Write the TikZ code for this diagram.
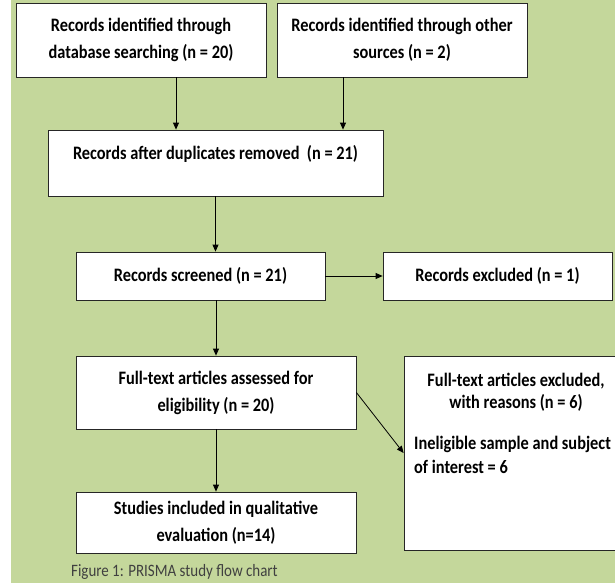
\documentclass[tikz,border=0pt]{standalone}
\usepackage{fontspec}
\setmainfont{Carlito}
\newfontfamily\narrowfam[FakeStretch=0.86]{Carlito}
\usetikzlibrary{arrows.meta}
\definecolor{bggreen}{RGB}{196,215,155}
\newcommand{\boxfont}{\narrowfam\fontsize{19pt}{27pt}\selectfont\bfseries}
\newcommand{\capfont}{\narrowfam\fontsize{17.4pt}{20pt}\selectfont}

\begin{document}
\begin{tikzpicture}[x=1pt,y=-1pt,
  box/.style={draw=black!85,fill=white,line width=0.8pt,inner sep=0pt,align=center,font=\boxfont},
  flow/.style={-{Triangle[length=7pt,width=6pt]},line width=0.8pt}]
\useasboundingbox (0,0) rectangle (615,583);
\fill[bggreen] (11,0) rectangle (615,583);
%
\node[box,minimum width=250pt,minimum height=74pt] (rec1) at (141,40) {Records identified through\\database searching (n = 20)};
\node[box,minimum width=250pt,minimum height=74pt] (rec2) at (402,40) {Records identified through other\\sources (n = 2)};
\node[box,minimum width=335pt,minimum height=66pt,inner ysep=4pt,text height=25pt,text depth=33pt] (dedup) at (215.5,163) {Records after duplicates removed\ \ (n = 21)};
\node[box,minimum width=249pt,minimum height=48pt] (screen) at (200.5,276) {Records screened (n = 21)};
\node[box,minimum width=229pt,minimum height=48pt] (excl) at (497.5,276) {Records excluded (n = 1)};
\node[box,minimum width=280pt,minimum height=73pt] (full) at (216,392.5) {Full-text articles assessed for\\eligibility (n = 20)};
\node[box,minimum width=221pt,minimum height=194pt] (fullex) at (514.5,453) {};
\node[align=center,font=\boxfont\fontsize{19pt}{22pt}\selectfont,inner sep=0pt] (fullexhead) at (516,392.5) {Full-text articles excluded,\\with reasons (n = 6)};
\node[anchor=west,align=left,font=\boxfont\fontsize{19pt}{24pt}\selectfont,inner sep=0pt] (fullexwhy) at (414,455) {Ineligible sample and subject\\of interest = 6};
\node[box,minimum width=280pt,minimum height=61pt] (incl) at (216,522.5) {Studies included in qualitative\\evaluation (n=14)};
%
\draw[flow] ([xshift=35pt]rec1.south) -- ([xshift=35pt]rec1.south |- dedup.north);
\draw[flow] ([xshift=-59pt]rec2.south) -- ([xshift=-59pt]rec2.south |- dedup.north);
\draw[flow] (dedup.south) -- (dedup.south |- screen.north);
\draw[flow] (screen.east) -- (excl.west);
\draw[flow] (full.north |- screen.south) -- (full.north);
\draw[flow] (full.east) -- (fullex.west);
\draw[flow] (full.south) -- (incl.north);
%
\node[anchor=west,font=\capfont,text=black!75,inner sep=0pt] (caption) at (71,572) {Figure 1: PRISMA study flow chart};
\end{tikzpicture}
\end{document}
